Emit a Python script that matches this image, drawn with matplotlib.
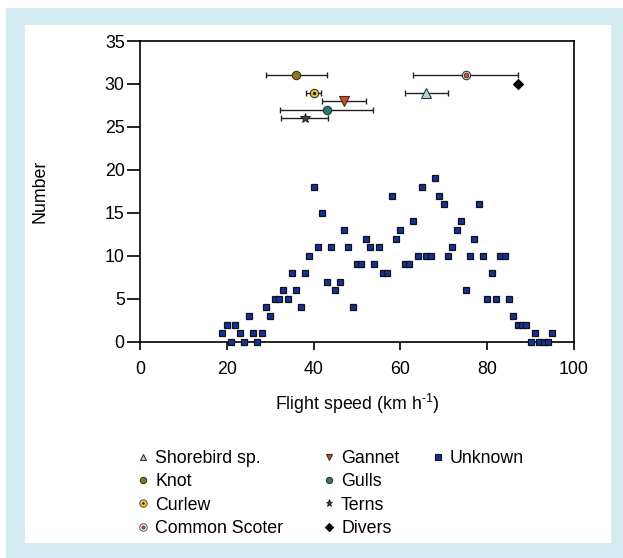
import matplotlib
matplotlib.use("Agg")
import matplotlib.pyplot as plt
from matplotlib.lines import Line2D
from matplotlib.patches import Rectangle
from matplotlib.legend_handler import HandlerTuple

plt.rcParams['font.family'] = ['Liberation Sans', 'DejaVu Sans']
plt.rcParams['mathtext.fontset'] = 'custom'
plt.rcParams['mathtext.rm'] = 'Liberation Sans'
plt.rcParams['mathtext.it'] = 'Liberation Sans'

# Unknown birds: flight speed (km/h) and number
unk_speed = [19, 20, 21, 22, 23, 24, 25, 26, 27, 28, 29, 30, 31, 32, 33, 34, 35, 36, 37, 38,
             39, 40, 41, 42, 43, 44, 45, 46, 47, 48, 49, 50, 51, 52, 53, 54, 55, 56, 57, 58,
             59, 60, 61, 62, 63, 64, 65, 66, 67, 68, 69, 70, 71, 72, 73, 74, 75, 76, 77, 78,
             79, 80, 81, 82, 83, 84, 85, 86, 87, 88, 89, 90, 91, 92, 93, 94, 95]
unk_count = [1, 2, 0, 2, 1, 0, 3, 1, 0, 1, 4, 3, 5, 5, 6, 5, 8, 6, 4, 8,
             10, 18, 11, 15, 7, 11, 6, 7, 13, 11, 4, 9, 9, 12, 11, 9, 11, 8, 8, 17,
             12, 13, 9, 9, 14, 10, 18, 10, 10, 19, 17, 16, 10, 11, 13, 14, 6, 10, 12, 16,
             10, 5, 8, 5, 10, 10, 5, 3, 2, 2, 2, 0, 1, 0, 0, 0, 1]

# Identified species: mean speed, error (half width), plotted row
species = ["Shorebird sp.", "Knot", "Curlew", "Common Scoter", "Gannet", "Gulls", "Terns", "Divers"]
sp_speed = [66, 36, 40, 75, 47, 43, 38, 87]
sp_err = [5, 7, 1.8, 12, 5, 10.8, 5.4, 0]
sp_row = [29, 31, 29, 31, 28, 27, 26, 30]

xticks = [0, 20, 40, 60, 80, 100]
yticks = [0, 5, 10, 15, 20, 25, 30, 35]

FS = 12.8
W, H = 623, 558
fig = plt.figure(figsize=(W / 100, H / 100), dpi=100)
fig.patch.set_facecolor('white')
fig.patches.append(Rectangle((6 / W, 0), 1 - 6 / W, 1 - 8 / H, transform=fig.transFigure,
                             facecolor='#d4ebf2', edgecolor='none', zorder=-10))
fig.patches.append(Rectangle((25 / W, 1 - 543 / H), (611 - 25) / W, (543 - 25) / H,
                             transform=fig.transFigure, facecolor='white', edgecolor='none', zorder=-9))

ax = fig.add_axes([140 / W, 1 - 341.7 / H, 434 / W, 300.7 / H])
ax.set_facecolor('none')
ax.set_xlim(0, 100)
ax.set_ylim(0, 35)
ax.set_xticks(xticks)
ax.set_yticks(yticks)
for s in ax.spines.values():
    s.set_linewidth(1.2)
ax.tick_params(direction='out', width=1.2, labelsize=FS)
ax.tick_params(axis='y', length=9.5, pad=1.5)
ax.tick_params(axis='x', length=6, pad=8)
ax.set_xlabel(r'Flight speed (km h$^{\text{-}1}$)', fontsize=FS)
ax.set_ylabel('Number', fontsize=FS)
ax.xaxis.set_label_coords(0.5, -0.168)
ax.yaxis.set_label_coords(-0.21, 0.5)

# Unknown
ax.plot(unk_speed, unk_count, linestyle='none', marker='s', markersize=5,
        markerfacecolor='#12339a', markeredgecolor='#111111', markeredgewidth=0.9,
        clip_on=False, zorder=5)

styles = {
    "Shorebird sp.": [dict(marker='^', ms=6.5, mfc='#a9dbe6', mec='#333333', mew=0.8)],
    "Knot": [dict(marker='o', ms=6, mfc='#967812', mec='#333333', mew=0.8)],
    "Curlew": [dict(marker='o', ms=6, mfc='#e9c53c', mec='#333333', mew=0.8),
               dict(marker='o', ms=1.8, mfc='#111111', mec='#111111', mew=0.5)],
    "Common Scoter": [dict(marker='o', ms=6, mfc='white', mec='#444444', mew=0.9),
                      dict(marker='o', ms=3.4, mfc='#e0501a', mec='#333333', mew=0.7)],
    "Gannet": [dict(marker='v', ms=6.5, mfc='#d8480e', mec='#333333', mew=0.8)],
    "Gulls": [dict(marker='o', ms=6, mfc='#2a7878', mec='#333333', mew=0.8)],
    "Terns": [dict(marker='*', ms=7, mfc='#444444', mec='#111111', mew=0.6)],
    "Divers": [dict(marker='D', ms=5, mfc='black', mec='black', mew=0.8)],
}

for name, x, e, y in zip(species, sp_speed, sp_err, sp_row):
    if e > 0:
        ax.errorbar([x], [y], xerr=[e], fmt='none', ecolor='#222222', elinewidth=1.0,
                    capsize=2.5, capthick=1.0, zorder=6)
    for st in styles[name]:
        ax.plot([x], [y], linestyle='none', zorder=7, **st)

# Legend
def handle(name, scale=0.75):
    hs = []
    compound = len(styles[name]) > 1
    for i, st in enumerate(styles[name]):
        st2 = dict(st)
        if compound:
            st2['ms'] = st['ms'] * (0.9 if i == 0 else 0.7)
            st2['mew'] = st['mew'] * 0.7
        else:
            st2['ms'] = st['ms'] * scale
        hs.append(Line2D([], [], linestyle='none', **st2))
    return tuple(hs) if len(hs) > 1 else hs[0]

unk_h = Line2D([], [], linestyle='none', marker='s', markersize=4,
               markerfacecolor='#12339a', markeredgecolor='#111111', markeredgewidth=0.8)

columns = [species[:4], species[4:], ["Unknown"]]
col_marker_x = [143, 329, 438]
HL = 0.6
half_px = HL * FS * 100 / 72 / 2
for names, mx in zip(columns, col_marker_x):
    hs = [unk_h if n == "Unknown" else handle(n) for n in names]
    lg = fig.legend(hs, names, loc='upper left', bbox_to_anchor=((mx - half_px) / W, 1 - 450 / H),
                    frameon=False, fontsize=FS, handlelength=HL, handletextpad=0.38,
                    labelspacing=0.355, borderaxespad=0, borderpad=0,
                    handler_map={tuple: HandlerTuple(ndivide=1, pad=0)})

fig.savefig('out.png', dpi=100, facecolor=fig.get_facecolor())
